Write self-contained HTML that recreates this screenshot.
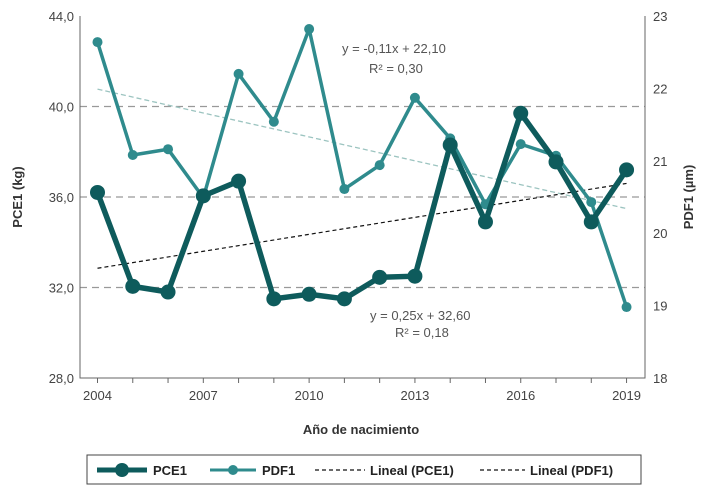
<!DOCTYPE html>
<html><head><meta charset="utf-8"><style>
body{margin:0;background:#fff;font-family:"Liberation Sans",sans-serif;}
svg text{font-family:"Liberation Sans",sans-serif;}
</style></head><body>
<svg width="707" height="494" viewBox="0 0 707 494">
<g id="grid"></g>
<g id="marks"></g>
<g id="labels"></g>
<text x="342" y="53" font-size="13" fill="#555">y = -0,11x + 22,10</text>
<text x="369" y="73" font-size="13" fill="#555">R² = 0,30</text>
<text x="370" y="320" font-size="13" fill="#555">y = 0,25x + 32,60</text>
<text x="395" y="337" font-size="13" fill="#555">R² = 0,18</text>
<text x="361" y="434" font-size="13" font-weight="bold" fill="#333" text-anchor="middle">Año de nacimiento</text>
<text transform="translate(22,197) rotate(-90)" font-size="13" font-weight="bold" fill="#333" text-anchor="middle">PCE1 (kg)</text>
<text transform="translate(693,197) rotate(-90)" font-size="13" font-weight="bold" fill="#333" text-anchor="middle">PDF1  (µm)</text>
<g>
<rect x="87" y="455" width="554" height="29" fill="#fff" stroke="#444" stroke-width="1"/>
<g>
<line x1="97" y1="470" x2="147" y2="470" stroke="#0e5b5c" stroke-width="5"/><circle cx="122" cy="470" r="7" fill="#0e5b5c"/>
<text x="153" y="475" font-size="13" font-weight="bold" fill="#222">PCE1</text></g>
<g>
<line x1="210" y1="470" x2="256" y2="470" stroke="#2f8b8d" stroke-width="3"/><circle cx="233" cy="470" r="5" fill="#2f8b8d"/>
<text x="262" y="475" font-size="13" font-weight="bold" fill="#222">PDF1</text></g>
<g>
<line x1="315" y1="470" x2="365" y2="470" stroke="#111" stroke-width="1.2" stroke-dasharray="4,3"/>
<text x="370" y="475" font-size="13" font-weight="bold" fill="#222">Lineal (PCE1)</text></g>
<g>
<line x1="480" y1="470" x2="525" y2="470" stroke="#111" stroke-width="1.2" stroke-dasharray="4,3"/>
<text x="530" y="475" font-size="13" font-weight="bold" fill="#222">Lineal (PDF1)</text></g>
</g>
</svg>
<script>
const years=[2004,2005,2006,2007,2008,2009,2010,2011,2012,2013,2014,2015,2016,2017,2018,2019];
const pce1=[36.2,32.05,31.8,36.05,36.7,31.5,31.7,31.5,32.45,32.5,38.3,34.9,39.7,37.55,34.9,37.2];
const pdf1=[22.64,21.08,21.16,20.49,22.2,21.54,22.82,20.61,20.94,21.87,21.31,20.40,21.23,21.07,20.43,18.98];
const leftTicks=["28,0","32,0","36,0","40,0","44,0"];
const leftTickVals=[28,32,36,40,44];
const rightTicks=[18,19,20,21,22,23];
const xTicks=[2004,2007,2010,2013,2016,2019];
const pceTrend=[0.25,32.60];
const pdfTrend=[-0.11,22.10];
const NS="http://www.w3.org/2000/svg";
const X0=80,X1=645,Y0=16,Y1=378;
const xs=y=>97.5+(y-2004)*35.27;
const yl=v=>Y1-(v-28)/16*(Y1-Y0);
const yr=v=>Y1-(v-18)/5*(Y1-Y0);
function mk(tag,attrs,parent){const e=document.createElementNS(NS,tag);for(const k in attrs)e.setAttribute(k,attrs[k]);document.getElementById(parent).appendChild(e);return e;}
// grid
leftTickVals.forEach((v,i)=>{
  if(v>28&&v<44){const l=mk('line',{x1:X0,x2:X1,y1:yl(v),y2:yl(v),stroke:'#999','stroke-width':1.3,'stroke-dasharray':'7,5'},'grid');
  
  }
  const t=mk('text',{x:X0-6,y:yl(v)+5,'font-size':13,fill:'#444','text-anchor':'end'},'labels');t.textContent=leftTicks[i];
  
  
});
rightTicks.forEach(v=>{
  const t=mk('text',{x:X1+8,y:yr(v)+5,'font-size':13,fill:'#444'},'labels');t.textContent=v;
  
  
});
const ax=mk('path',{d:`M${X0},${Y0}V${Y1}H${X1}V${Y0}`,fill:'none',stroke:'#666','stroke-width':1},'grid');


years.forEach(y=>{const l=mk('line',{x1:xs(y),x2:xs(y),y1:Y1,y2:Y1+5,stroke:'#666'},'grid');
  
  });
xTicks.forEach(y=>{const t=mk('text',{x:xs(y),y:Y1+22,'font-size':13,fill:'#444','text-anchor':'middle'},'labels');t.textContent=y;
  
  });
// trends
const n=years.length;
const tp=mk('line',{x1:xs(years[0]),x2:xs(years[n-1]),y1:yr(pdfTrend[0]*1+pdfTrend[1]),y2:yr(pdfTrend[0]*n+pdfTrend[1]),stroke:'#9cc4c0','stroke-width':1.3,'stroke-dasharray':'5,3'},'marks');


const tc=mk('line',{x1:xs(years[0]),x2:xs(years[n-1]),y1:yl(pceTrend[0]*1+pceTrend[1]),y2:yl(pceTrend[0]*n+pceTrend[1]),stroke:'#111','stroke-width':1.2,'stroke-dasharray':'4,3'},'marks');


// series
const lp=mk('polyline',{points:years.map((y,i)=>xs(y)+','+yr(pdf1[i])).join(' '),fill:'none',stroke:'#2f8b8d','stroke-width':3.5,'stroke-linejoin':'round'},'marks');


years.forEach((y,i)=>{const c=mk('circle',{cx:xs(y),cy:yr(pdf1[i]),r:5,fill:'#2f8b8d'},'marks');
  
  });
const lc=mk('polyline',{points:years.map((y,i)=>xs(y)+','+yl(pce1[i])).join(' '),fill:'none',stroke:'#0e5b5c','stroke-width':5.5,'stroke-linejoin':'round'},'marks');


years.forEach((y,i)=>{const c=mk('circle',{cx:xs(y),cy:yl(pce1[i]),r:7.5,fill:'#0e5b5c'},'marks');
  
  });
</script>
</body></html>
